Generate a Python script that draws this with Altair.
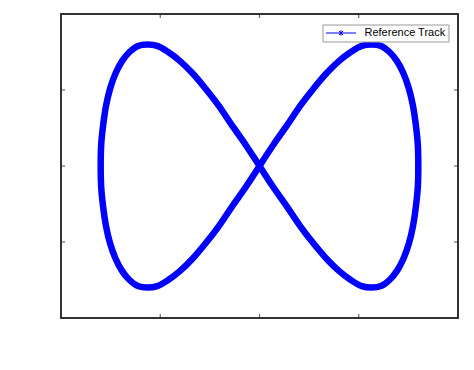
import altair as alt
import pandas as pd

# Track (metres), traversed as one closed loop
x_m = [0.0, 2.8, 5.6, 8.3, 10.9, 13.5, 16.0, 18.4, 20.6, 22.6, 24.5, 26.2, 27.7, 29.0, 30.1, 30.9, 31.5, 31.9, 32.0,
       31.9, 31.5, 30.9, 30.1, 29.0, 27.7, 26.2, 24.5, 22.6, 20.6, 18.4, 16.0, 13.5, 10.9, 8.3, 5.6, 2.8, 0.0,
       -2.8, -5.6, -8.3, -10.9, -13.5, -16.0, -18.4, -20.6, -22.6, -24.5, -26.2, -27.7, -29.0, -30.1, -30.9, -31.5, -31.9, -32.0,
       -31.9, -31.5, -30.9, -30.1, -29.0, -27.7, -26.2, -24.5, -22.6, -20.6, -18.4, -16.0, -13.5, -10.9, -8.3, -5.6, -2.8, 0.0]
y_m = [0.0, 1.4, 2.7, 4.0, 5.1, 6.1, 6.9, 7.5, 7.9, 8.0, 7.9, 7.5, 6.9, 6.1, 5.1, 4.0, 2.7, 1.4, 0.0,
       -1.4, -2.7, -4.0, -5.1, -6.1, -6.9, -7.5, -7.9, -8.0, -7.9, -7.5, -6.9, -6.1, -5.1, -4.0, -2.7, -1.4, 0.0,
       1.4, 2.7, 4.0, 5.1, 6.1, 6.9, 7.5, 7.9, 8.0, 7.9, 7.5, 6.9, 6.1, 5.1, 4.0, 2.7, 1.4, 0.0,
       -1.4, -2.7, -4.0, -5.1, -6.1, -6.9, -7.5, -7.9, -8.0, -7.9, -7.5, -6.9, -6.1, -5.1, -4.0, -2.7, -1.4, 0.0]
series_name = "Reference Track"
x_ticks = [-40, -20, 0, 20, 40]
y_ticks = [-10, -5, 0, 5, 10]

df = pd.DataFrame({"x": x_m, "y": y_m, "idx": list(range(len(x_m))),
                   "series": [series_name] * len(x_m)})

# frame (axes box) spanning the full tick range, and the inner tick marks
frame_df = pd.DataFrame({"x0": [x_ticks[0]], "x1": [x_ticks[-1]],
                         "y0": [y_ticks[0]], "y1": [y_ticks[-1]]})
bottom_df = pd.DataFrame({"x": x_ticks[1:-1], "y": [y_ticks[0]] * 3})
top_df = pd.DataFrame({"x": x_ticks[1:-1], "y": [y_ticks[-1]] * 3})
left_df = pd.DataFrame({"x": [x_ticks[0]] * 3, "y": y_ticks[1:-1]})
right_df = pd.DataFrame({"x": [x_ticks[-1]] * 3, "y": y_ticks[1:-1]})

W, H = 397, 304
PAD_L, PAD_T = 53, 6
FONT = "Liberation Sans"
AX = "#262626"
LBL = "'' + datum.value"

xs = alt.Scale(domain=[-40, 40], nice=False, zero=False)
ys = alt.Scale(domain=[-10, 10], nice=False, zero=False)

legend_symbol = ("M-3,0L3,0M-0.4,-0.4L0.4,0.4M-0.4,0.4L0.4,-0.4"
                 "M0,-0.55L0,0.55")

frame = alt.Chart(frame_df).mark_rect(
    fillOpacity=0, stroke=AX, strokeWidth=1.5
).encode(
    x=alt.X("x0:Q", scale=xs, axis=None), x2="x1:Q",
    y=alt.Y("y0:Q", scale=ys, axis=None), y2="y1:Q",
)


def tick_layer(data, orient, dx, dy):
    return alt.Chart(data).mark_tick(
        orient=orient, size=4, thickness=1.2, color=AX, xOffset=dx, yOffset=dy
    ).encode(
        x=alt.X("x:Q", scale=xs, axis=None),
        y=alt.Y("y:Q", scale=ys, axis=None),
    )


ticks_bottom = tick_layer(bottom_df, "vertical", 0, -2)
ticks_top = tick_layer(top_df, "vertical", 0, 2)
ticks_left = tick_layer(left_df, "horizontal", 2, 0)
ticks_right = tick_layer(right_df, "horizontal", -2, 0)

track = alt.Chart(df).mark_line(
    strokeWidth=6.5, interpolate="catmull-rom", strokeCap="round", strokeJoin="round"
).encode(
    x=alt.X("x:Q", scale=xs, axis=alt.Axis(
        orient="bottom", values=x_ticks, title="x-coordinate [m]", ticks=False,
        tickSize=0, domain=False, grid=False, labelPadding=13, labelFlush=False,
        labelFont=FONT, labelFontSize=13, labelColor=AX, labelExpr=LBL,
        titleFont=FONT, titleFontSize=13, titleFontWeight="normal", titleColor=AX,
        titleY=35, titleBaseline="middle")),
    y=alt.Y("y:Q", scale=ys, axis=alt.Axis(
        orient="left", values=y_ticks, title="y-coordinate[m]", ticks=False,
        tickSize=0, domain=False, grid=False, labelPadding=8, labelFlush=False,
        labelFont=FONT, labelFontSize=13, labelColor=AX, labelExpr=LBL,
        titleFont=FONT, titleFontSize=13, titleFontWeight="normal", titleColor=AX,
        titleX=-39, titleY=H / 2, titleAngle=270, titleBaseline="middle",
        titleAlign="center")),
    color=alt.Color("series:N", scale=alt.Scale(domain=[series_name], range=["#0000ff"]),
                    legend=alt.Legend(
                        title=None, orient="none", legendX=261.5, legendY=10.5,
                        symbolType=legend_symbol, symbolSize=100, symbolStrokeWidth=1,
                        symbolOffset=10,
                        labelFont=FONT, labelFontSize=11, labelColor="#000000",
                        strokeColor="#999999", fillColor="white", padding=3,
                        labelOffset=18, cornerRadius=0)),
    order=alt.Order("idx:Q"),
)

chart = alt.layer(
    track, frame, ticks_bottom, ticks_top, ticks_left, ticks_right
).properties(
    width=W, height=H,
    background="white",
    autosize=alt.AutoSizeParams(type="none"),
    padding={"left": PAD_L, "top": PAD_T, "right": 8, "bottom": 44},
).configure_view(stroke=AX, strokeWidth=1.5)

chart.save("out.html", embed_options={"renderer": "svg", "actions": False})
